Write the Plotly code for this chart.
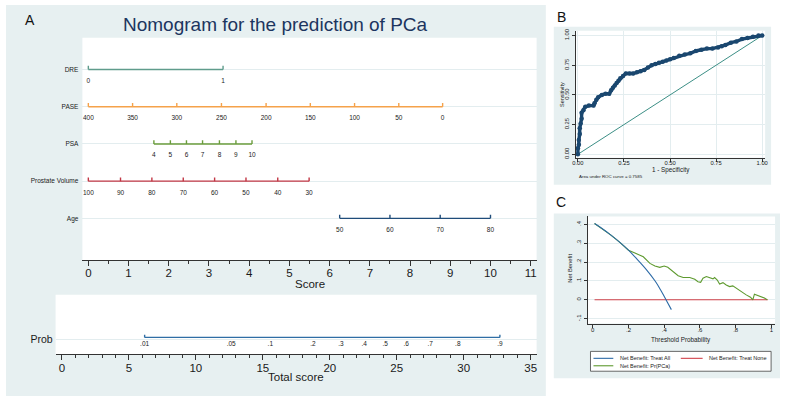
import plotly.graph_objects as go

W, H = 788, 403
FONT = "Liberation Sans, Arial, sans-serif"

# ---------------- Data: nomogram (panel A) ----------------
var_names = ["DRE", "PASE", "PSA", "Prostate Volume", "Age"]
dre_labels = ["0", "1"]
dre_scores = [0.0, 3.35]
pase_labels = ["400", "350", "300", "250", "200", "150", "100", "50", "0"]
pase_scores = [0.0, 1.10, 2.20, 3.31, 4.42, 5.52, 6.62, 7.72, 8.81]
psa_labels = ["4", "5", "6", "7", "8", "9", "10"]
psa_scores = [1.63, 2.04, 2.44, 2.84, 3.26, 3.67, 4.07]
pv_labels = ["100", "90", "80", "70", "60", "50", "40", "30"]
pv_scores = [0.0, 0.80, 1.58, 2.36, 3.14, 3.92, 4.71, 5.49]
age_labels = ["50", "60", "70", "80"]
age_scores = [6.25, 7.50, 8.75, 10.0]
score_ticks = [0, 1, 2, 3, 4, 5, 6, 7, 8, 9, 10, 11]

prob_labels = [".01", ".05", ".1", ".2", ".3", ".4", ".5", ".6", ".7", ".8", ".9"]
prob_total_scores = [6.18, 12.64, 15.56, 18.74, 20.84, 22.57, 24.13, 25.70, 27.50, 29.56, 32.70]
total_ticks = [0, 5, 10, 15, 20, 25, 30, 35]

# ---------------- Data: ROC (panel B) ----------------
roc_fpr = [0.0, 0.0, 0.005, 0.005, 0.01, 0.01, 0.015, 0.02, 0.02, 0.03, 0.04, 0.06, 0.085,
           0.09, 0.10, 0.11, 0.13, 0.15, 0.17, 0.18, 0.19, 0.20, 0.21, 0.22, 0.23, 0.245,
           0.26, 0.28, 0.30, 0.32, 0.34, 0.36, 0.38, 0.40, 0.42, 0.44, 0.46, 0.48, 0.50,
           0.52, 0.55, 0.58, 0.61, 0.64, 0.67, 0.70, 0.73, 0.76, 0.78, 0.80, 0.83, 0.86,
           0.89, 0.92, 0.95, 0.98, 1.0]
roc_tpr = [0.0, 0.05, 0.08, 0.12, 0.17, 0.22, 0.26, 0.30, 0.35, 0.37, 0.40, 0.41, 0.41,
           0.43, 0.46, 0.48, 0.50, 0.51, 0.51, 0.54, 0.56, 0.58, 0.60, 0.62, 0.64, 0.66,
           0.68, 0.68, 0.68, 0.69, 0.70, 0.71, 0.73, 0.75, 0.76, 0.77, 0.78, 0.79, 0.80,
           0.81, 0.83, 0.84, 0.85, 0.87, 0.88, 0.89, 0.89, 0.90, 0.91, 0.92, 0.94, 0.95,
           0.97, 0.98, 0.99, 1.0, 1.0]
roc_ref = [0.0, 1.0]
auc_text = "Area under ROC curve = 0.7585"

# ---------------- Data: decision curve (panel C) ----------------
all_thr = [0.01, 0.05, 0.10, 0.15, 0.20, 0.25, 0.30, 0.35, 0.38, 0.41, 0.44]
all_nb = [0.404, 0.379, 0.344, 0.306, 0.263, 0.213, 0.160, 0.098, 0.052, 0.0, -0.052]
none_thr = [0.01, 0.98]
none_nb = [0.0, 0.0]
model_thr = [0.01, 0.05, 0.10, 0.15, 0.20, 0.236, 0.283, 0.32, 0.348, 0.375, 0.40, 0.42,
             0.45, 0.478, 0.506, 0.543, 0.571, 0.589, 0.604, 0.617, 0.636, 0.654, 0.673,
             0.682, 0.697, 0.71, 0.729, 0.747, 0.766, 0.784, 0.803, 0.831, 0.859, 0.883,
             0.896, 0.905, 0.92, 0.942, 0.961, 0.976]
model_nb = [0.404, 0.379, 0.344, 0.306, 0.263, 0.248, 0.228, 0.193, 0.179, 0.172, 0.179,
            0.172, 0.149, 0.128, 0.118, 0.118, 0.109, 0.096, 0.093, 0.114, 0.123, 0.119,
            0.111, 0.118, 0.105, 0.084, 0.091, 0.079, 0.070, 0.074, 0.061, 0.044, 0.026,
            0.014, 0.0, 0.030, 0.025, 0.018, 0.009, 0.0]
dca_yticks = [-0.1, 0.0, 0.1, 0.2, 0.3, 0.4]
dca_yticktext = ["-.1", "0", ".1", ".2", ".3", ".4"]
dca_xticks = [0, 0.2, 0.4, 0.6, 0.8, 1.0]
dca_xticktext = ["0", ".2", ".4", ".6", ".8", "1"]
legend_names = ["Net Benefit: Treat All", "Net Benefit: Treat None", "Net Benefit: Pr(PCa)"]

# ---------------- Styling ----------------
var_colors = ["#5f9c8c", "#f5a24a", "#6b9c3c", "#c23644", "#1f4c7a"]
prob_color = "#2f6ea5"
panel_bg = "#e7f0f1"
grid_c = "#e3edef"
axis_c = "#333333"
txt_c = "#1a1a1a"


def px_x(p):
    return p / W


def px_y(p):
    return 1 - p / H


fig = go.Figure()

# ---- Panel A upper nomogram ----
all_labels = [dre_labels, pase_labels, psa_labels, pv_labels, age_labels]
all_scores = [dre_scores, pase_scores, psa_scores, pv_scores, age_scores]
n_rows = len(var_names)
row_pos = [n_rows - i for i in range(n_rows)]
tick_up = 0.10
lab_down = 0.32
for name, labs, scs, col, r in zip(var_names, all_labels, all_scores, var_colors, row_pos):
    xs = [scs[0], scs[-1], None]
    ys = [r, r, None]
    for s in scs:
        xs += [s, s, None]
        ys += [r, r + tick_up, None]
    fig.add_trace(go.Scatter(x=xs, y=ys, mode="lines", line=dict(color=col, width=1.4),
                             xaxis="x", yaxis="y", showlegend=False, hoverinfo="skip"))
    fig.add_trace(go.Scatter(x=scs, y=[r - lab_down] * len(scs), mode="text", text=labs,
                             textfont=dict(size=6.5, color=txt_c, family=FONT),
                             xaxis="x", yaxis="y", showlegend=False, hoverinfo="skip"))

# ---- Panel A lower nomogram ----
prob_row = 0.25
xs = [prob_total_scores[0], prob_total_scores[-1], None]
ys = [prob_row + 0.035, prob_row + 0.035, None]
for s in [prob_total_scores[0], prob_total_scores[-1]]:
    xs += [s, s, None]
    ys += [prob_row + 0.035, prob_row + 0.08, None]
fig.add_trace(go.Scatter(x=xs, y=ys, mode="lines", line=dict(color=prob_color, width=1.4),
                         xaxis="x2", yaxis="y2", showlegend=False, hoverinfo="skip"))
fig.add_trace(go.Scatter(x=prob_total_scores, y=[prob_row - 0.075] * len(prob_labels),
                         mode="text", text=prob_labels,
                         textfont=dict(size=6.5, color=txt_c, family=FONT),
                         xaxis="x2", yaxis="y2", showlegend=False, hoverinfo="skip"))

# ---- Panel B ROC ----
fig.add_trace(go.Scatter(x=roc_ref, y=roc_ref, mode="lines", line=dict(color="#3c8f86", width=1),
                         xaxis="x3", yaxis="y3", showlegend=False, hoverinfo="skip"))
fig.add_trace(go.Scatter(x=roc_fpr, y=roc_tpr, mode="lines+markers",
                         line=dict(color="#1a476f", width=3.4),
                         marker=dict(color="#1a476f", size=4.5),
                         xaxis="x3", yaxis="y3", showlegend=False, hoverinfo="skip"))

# ---- Panel C DCA ----
dca_colors = ["#2c6aa6", "#d2404a", "#5e9a2f"]
fig.add_trace(go.Scatter(x=none_thr, y=none_nb, mode="lines", line=dict(color=dca_colors[1], width=1.1),
                         xaxis="x4", yaxis="y4", showlegend=False, hoverinfo="skip"))
fig.add_trace(go.Scatter(x=model_thr, y=model_nb, mode="lines", line=dict(color=dca_colors[2], width=1.1),
                         xaxis="x4", yaxis="y4", showlegend=False, hoverinfo="skip"))
fig.add_trace(go.Scatter(x=all_thr, y=all_nb, mode="lines", line=dict(color=dca_colors[0], width=1.1),
                         line_shape="spline",
                         xaxis="x4", yaxis="y4", showlegend=False, hoverinfo="skip"))

# ---- Shapes: panel backgrounds, plot areas & legend ----
shapes = []
for (x0, y0, x1, y1) in [(3, 3, 547, 397), (555, 25, 774, 184), (555, 213, 783, 379)]:
    shapes.append(dict(type="rect", xref="paper", yref="paper", x0=px_x(x0), x1=px_x(x1),
                       y0=px_y(y1), y1=px_y(y0), fillcolor=panel_bg, line=dict(width=0),
                       layer="below"))
for (x0, y0, x1, y1) in [(80, 36, 537.7, 260), (53, 295, 537.7, 355),
                         (577, 29, 768, 157), (589, 216, 778, 324)]:
    shapes.append(dict(type="rect", xref="paper", yref="paper", x0=px_x(x0), x1=px_x(x1),
                       y0=px_y(y1), y1=px_y(y0), fillcolor="white", line=dict(width=0),
                       layer="below"))
# legend box
shapes.append(dict(type="rect", xref="paper", yref="paper", x0=px_x(592), x1=px_x(774),
                   y0=px_y(372), y1=px_y(352), fillcolor="white",
                   line=dict(color="#444", width=0.8)))
leg_items = [(595, 615, 359, dca_colors[0], 620, legend_names[0]),
             (683, 705, 359, dca_colors[1], 709, legend_names[1]),
             (595, 615, 366.5, dca_colors[2], 620, legend_names[2])]
annotations = []
for (lx0, lx1, ly, c, tx, t) in leg_items:
    shapes.append(dict(type="line", xref="paper", yref="paper", x0=px_x(lx0), x1=px_x(lx1),
                       y0=px_y(ly), y1=px_y(ly), line=dict(color=c, width=1.1)))
    annotations.append(dict(x=px_x(tx), y=px_y(ly), xref="paper", yref="paper", text=t,
                            showarrow=False, xanchor="left", yanchor="middle",
                            font=dict(size=5.5, color=txt_c, family=FONT)))


def ann(x, y, text, size, color=txt_c, angle=0, xanchor="center"):
    annotations.append(dict(x=px_x(x), y=px_y(y), xref="paper", yref="paper", text=text,
                            showarrow=False, xanchor=xanchor, yanchor="middle",
                            textangle=angle, font=dict(size=size, color=color, family=FONT)))


ann(27, 18, "A", 14, "#111")
ann(563, 15, "B", 14, "#111")
ann(562, 202, "C", 14, "#111")
ann(275, 23, "Nomogram for the prediction of PCa", 19, "#1c355f")
ann(309, 284, "Score", 11.5)
ann(295.5, 378, "Total score", 11.5)
ann(564, 93, "Sensitivity", 5.5, angle=-90)
ann(673, 169, "1 - Specificity", 6.3)
ann(578, 175.5, auc_text, 4.4, xanchor="left")
ann(571, 268, "Net Benefit", 5.8, angle=-90)
ann(683, 341, "Threshold Probability", 6.3)

axis_common = dict(showline=True, linecolor=axis_c, linewidth=1, zeroline=False,
                   tickcolor=axis_c, ticks="outside")

fig.update_layout(
    width=W, height=H, autosize=False,
    margin=dict(l=0, r=0, t=0, b=0),
    paper_bgcolor="white", plot_bgcolor="rgba(0,0,0,0)",
    font=dict(family=FONT, color=txt_c),
    showlegend=False,
    shapes=shapes, annotations=annotations,
    xaxis=dict(domain=[px_x(80), px_x(537.7)], range=[-0.148, 11.147], anchor="y",
               tickvals=score_ticks, ticklen=5, tickfont=dict(size=11.5, color=txt_c),
               showgrid=False, ticklabelstandoff=-3,
               minor=dict(dtick=0.5, tick0=0, ticks="outside", ticklen=3, tickcolor=axis_c,
                          showgrid=False),
               **axis_common),
    yaxis=dict(domain=[px_y(260), px_y(36)], range=[-0.12, 5.853], anchor="x",
               tickvals=row_pos, ticktext=var_names, ticks="", showline=False,
               showgrid=True, gridcolor=grid_c, gridwidth=1, zeroline=False,
               tickfont=dict(size=6.5, color=txt_c), ticklabelstandoff=3),
    xaxis2=dict(domain=[px_x(53), px_x(537.7)], range=[-0.467, 35.44], anchor="y2",
                tickvals=total_ticks, ticklen=5, tickfont=dict(size=11.5, color=txt_c),
                showgrid=False, ticklabelstandoff=-2,
                minor=dict(dtick=1, tick0=0, ticks="outside", ticklen=3, tickcolor=axis_c,
                           showgrid=False),
                **axis_common),
    yaxis2=dict(domain=[px_y(355), px_y(295)], range=[0, 1], anchor="x2",
                tickvals=[prob_row], ticktext=["Prob"], ticks="", showline=False,
                showgrid=True, gridcolor=grid_c, zeroline=False,
                tickfont=dict(size=10.5, color=txt_c), ticklabelstandoff=2),
    xaxis3=dict(domain=[px_x(577), px_x(768)], range=[-0.0125, 1.016], anchor="y3",
                tickvals=[0, 0.25, 0.5, 0.75, 1.0], ticktext=["0.00", "0.25", "0.50", "0.75", "1.00"],
                ticklen=3, tickfont=dict(size=5.8, color=txt_c), ticklabelstandoff=-4,
                showgrid=True, gridcolor=grid_c, **axis_common),
    yaxis3=dict(domain=[px_y(157), px_y(29)], range=[-0.03, 1.04], anchor="x3",
                tickvals=[0, 0.25, 0.5, 0.75, 1.0], ticktext=["0.00", "0.25", "0.50", "0.75", "1.00"],
                ticklen=3, tickangle=-90, tickfont=dict(size=5.8, color=txt_c),
                showgrid=True, gridcolor=grid_c, **axis_common),
    xaxis4=dict(domain=[px_x(589), px_x(778)], range=[-0.0294, 1.0206], anchor="y4",
                tickvals=dca_xticks, ticktext=dca_xticktext, ticklen=3, ticklabelstandoff=-3,
                tickfont=dict(size=6, color=txt_c), showgrid=False, **axis_common),
    yaxis4=dict(domain=[px_y(324), px_y(216)], range=[-0.126, 0.442], anchor="x4",
                tickvals=dca_yticks, ticktext=dca_yticktext, ticklen=3, tickangle=-90,
                tickfont=dict(size=6, color=txt_c), showgrid=True, gridcolor=grid_c,
                **axis_common),
)

fig.write_html("out.html", config={"displayModeBar": False},
               post_script="document.body.style.margin='0';document.body.style.overflow='hidden';")
